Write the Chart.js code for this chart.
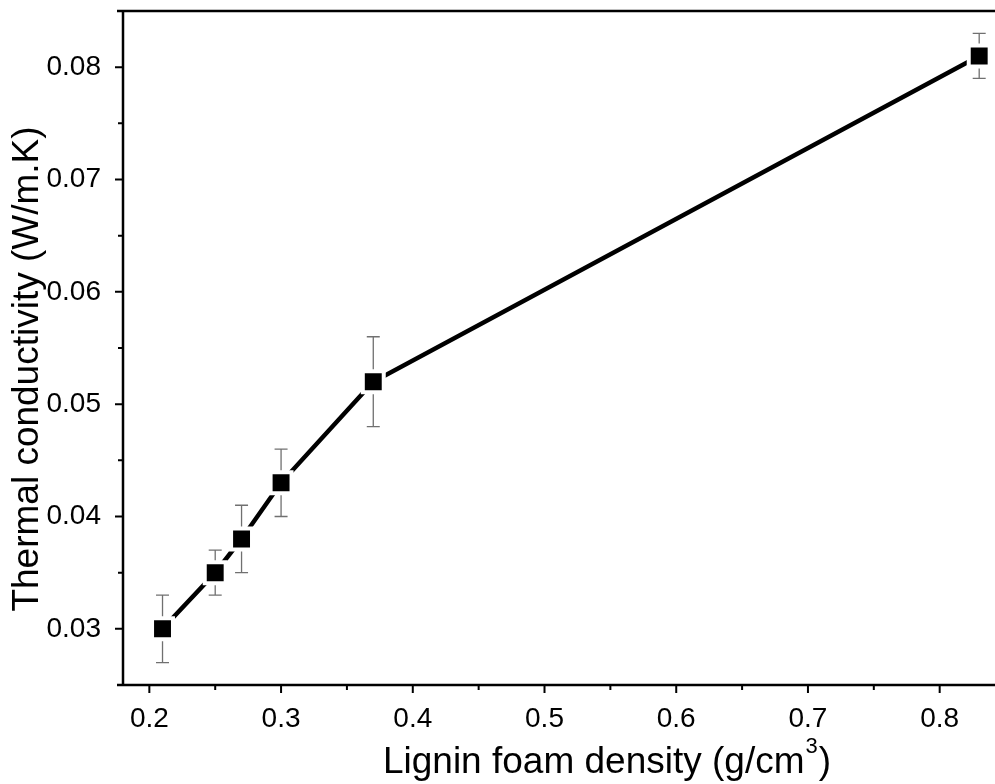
<!DOCTYPE html>
<html>
<head>
<meta charset="utf-8">
<script src="https://cdn.jsdelivr.net/npm/chart.js@4/dist/chart.umd.min.js"></script>
<style>
  html, body { margin: 0; padding: 0; background: #fff; overflow: hidden; }
  canvas { display: block; }
</style>
</head>
<body>
<canvas id="chart" width="995" height="784"></canvas>
<script>
// data
const density = [0.21, 0.25, 0.27, 0.30, 0.37, 0.83];
const conductivity = [0.030, 0.035, 0.038, 0.043, 0.052, 0.081];
const errors = [0.003, 0.002, 0.003, 0.003, 0.004, 0.002];
const xTicks = [0.2, 0.3, 0.4, 0.5, 0.6, 0.7, 0.8];
const yTicks = [0.03, 0.04, 0.05, 0.06, 0.07, 0.08];

const FONT = "'Liberation Sans', Arial, sans-serif";

// frame, tick marks, error bars and axis titles
const framePlugin = {
    id: 'frame',
    beforeDatasetsDraw(chart) {
        const ctx = chart.ctx;
        const xs = chart.scales.x, ys = chart.scales.y;
        ctx.save();
        ctx.strokeStyle = '#707070';
        ctx.lineWidth = 1.3;
        for (let i = 0; i < density.length; i++) {
            const px = xs.getPixelForValue(density[i]);
            const top = ys.getPixelForValue(conductivity[i] + errors[i]);
            const bot = ys.getPixelForValue(conductivity[i] - errors[i]);
            ctx.beginPath();
            ctx.moveTo(px, top); ctx.lineTo(px, bot);
            ctx.moveTo(px - 6.5, top); ctx.lineTo(px + 6.5, top);
            ctx.moveTo(px - 6.5, bot); ctx.lineTo(px + 6.5, bot);
            ctx.stroke();
        }
        ctx.restore();
    },
    afterDraw(chart) {
        const ctx = chart.ctx;
        const xs = chart.scales.x, ys = chart.scales.y;
        const a = chart.chartArea;
        ctx.save();
        ctx.strokeStyle = '#000';
        ctx.lineWidth = 2.5;
        ctx.beginPath();
        ctx.moveTo(a.left - 6, a.top); ctx.lineTo(chart.width, a.top);
        ctx.moveTo(a.left, a.top); ctx.lineTo(a.left, a.bottom);
        ctx.moveTo(a.left - 6, a.bottom); ctx.lineTo(chart.width, a.bottom);
        ctx.stroke();
        ctx.lineWidth = 2;
        ctx.beginPath();
        for (let v = 0.2; v <= xs.max; v += 0.05) {
            const px = xs.getPixelForValue(v);
            const major = Math.abs(Math.round(v * 10) - v * 10) < 1e-6;
            ctx.moveTo(px, a.bottom); ctx.lineTo(px, a.bottom + (major ? 8 : 5));
        }
        for (let v = 0.03; v <= 0.0851; v += 0.005) {
            const py = ys.getPixelForValue(v);
            const major = Math.abs(Math.round(v * 100) - v * 100) < 1e-6;
            ctx.moveTo(a.left, py); ctx.lineTo(a.left - (major ? 8 : 5), py);
        }
        ctx.stroke();

        // axis titles
        ctx.fillStyle = '#000';
        ctx.textBaseline = 'alphabetic';
        ctx.font = '37px ' + FONT;
        const main = 'Lignin foam density (g/cm';
        const wMain = ctx.measureText(main).width;
        const wClose = ctx.measureText(')').width;
        ctx.font = '22px ' + FONT;
        const wSup = ctx.measureText('3').width;
        let x0 = 607 - (wMain + wSup + wClose + 2) / 2;
        const yb = 773;
        ctx.textAlign = 'left';
        ctx.font = '37px ' + FONT;
        ctx.fillText(main, x0, yb);
        ctx.font = '22px ' + FONT;
        ctx.fillText('3', x0 + wMain + 1, yb - 20);
        ctx.font = '37px ' + FONT;
        ctx.fillText(')', x0 + wMain + wSup + 2, yb);

        ctx.font = '37px ' + FONT;
        ctx.translate(38, 369);
        ctx.rotate(-Math.PI / 2);
        ctx.textAlign = 'center';
        ctx.fillText('Thermal conductivity (W/m.K)', 0, 0);
        ctx.restore();
    }
};

new Chart(document.getElementById('chart'), {
    type: 'scatter',
    data: {
        datasets: [{
            data: density.map((d, i) => ({x: d, y: conductivity[i]})),
            showLine: true,
            borderColor: '#000',
            borderWidth: 4.5,
            pointStyle: 'rect',
            pointRadius: 14.8,
            pointBorderWidth: 4,
            pointBackgroundColor: '#000',
            pointBorderColor: '#fff'
        }]
    },
    plugins: [framePlugin],
    options: {
        responsive: false,
        animation: false,
        layout: { autoPadding: false, padding: { top: 11, right: 0, left: 0, bottom: 0 } },
        plugins: { legend: { display: false }, tooltip: { enabled: false } },
        scales: {
            x: {
                type: 'linear',
                min: 0.18,
                max: 0.842,
                afterBuildTicks: s => { s.ticks = xTicks.map(v => ({value: v})); },
                afterFit: s => {
                    s.height = 99;
                    s.paddingLeft = 0; s.paddingRight = 0;
                },
                grid: { display: false },
                border: { display: false },
                ticks: {
                    padding: 9,
                    color: '#000',
                    font: { family: FONT, size: 28 },
                    callback: v => String(+v.toFixed(1))
                }
            },
            y: {
                type: 'linear',
                min: 0.025,
                max: 0.085,
                afterBuildTicks: s => { s.ticks = yTicks.map(v => ({value: v})); },
                afterFit: s => {
                    s.width = 123;
                    s.paddingTop = 0; s.paddingBottom = 0;
                },
                grid: { display: false },
                border: { display: false },
                ticks: {
                    padding: 14,
                    color: '#000',
                    font: { family: FONT, size: 28 },
                    callback: v => (+v).toFixed(2)
                }
            }
        }
    }
});
</script>
</body>
</html>
